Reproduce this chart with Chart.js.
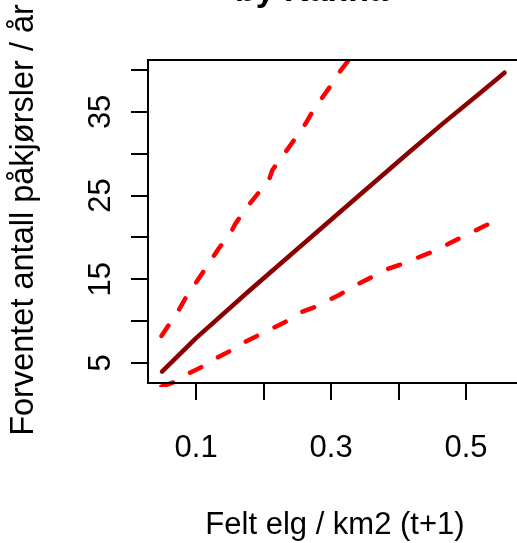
<!DOCTYPE html>
<html>
<head>
<meta charset="utf-8">
<script src="https://cdn.jsdelivr.net/npm/chart.js@4"></script>
<style>
  html, body { margin: 0; padding: 0; background: #fff; overflow: hidden; }
  #wrap { width: 517px; height: 543px; overflow: hidden; }
</style>
</head>
<body>
<div id="wrap"><canvas id="grafico" width="520" height="543"></canvas></div>
<script>
const tittel = 'by Kanna';
const xTittel = 'Felt elg / km2 (t+1)';
const yTittel = 'Forventet antall påkjørsler / år';

const xTicks = [0.1, 0.2, 0.3, 0.4, 0.5];
const xLabels = [0.1, 0.3, 0.5];
const yTicks = [5, 10, 15, 20, 25, 30, 35, 40];
const yLabels = [5, 15, 25, 35];

// forventet verdi
const xMid = [0.0495, 0.0991, 0.1783, 0.2526, 0.3269, 0.416, 0.4655, 0.52, 0.557];
const yMid = [3.95, 7.9, 13.6, 18.8, 24.0, 30.2, 33.6, 37.2, 39.68];

// øvre grense
const xOvre = [0.0486, 0.0743, 0.0842, 0.0991, 0.1238, 0.1337, 0.151, 0.1585, 0.1758, 0.208, 0.213, 0.2328, 0.2452, 0.2625, 0.2724, 0.2897, 0.3021, 0.3146, 0.3244, 0.334];
const yOvre = [8.22, 11.32, 12.72, 14.51, 17.50, 18.70, 20.49, 21.68, 23.67, 26.86, 28.05, 30.24, 31.64, 33.63, 35.02, 37.02, 38.42, 40.0, 41.0, 42.0];

// nedre grense
const xNedre = [0.0486, 0.0694, 0.0892, 0.109, 0.1337, 0.1535, 0.1734, 0.198, 0.218, 0.2328, 0.2575, 0.2774, 0.3021, 0.312, 0.3368, 0.3615, 0.3863, 0.4012, 0.426, 0.4507, 0.4755, 0.5003, 0.525, 0.557];
const yNedre = [2.16, 2.76, 3.76, 4.55, 5.74, 6.54, 7.54, 8.54, 9.33, 9.93, 11.12, 11.72, 12.72, 13.12, 14.31, 15.30, 16.31, 16.70, 17.50, 18.29, 19.29, 20.29, 21.28, 22.47];

const punkter = (xs, ys) => xs.map((x, i) => ({ x: x, y: ys[i] }));

const font = '"Liberation Sans", Arial, sans-serif';

const tekster = {
  id: 'tekster',
  afterDraw(chart) {
    const { ctx, chartArea, scales } = chart;
    ctx.save();
    // boks rundt plottet
    ctx.strokeStyle = '#000';
    ctx.lineWidth = 2;
    ctx.strokeRect(chartArea.left, chartArea.top, chartArea.right - chartArea.left, chartArea.bottom - chartArea.top);

    ctx.fillStyle = '#000';
    ctx.font = '31px ' + font;
    ctx.textAlign = 'center';
    ctx.textBaseline = 'alphabetic';
    yLabels.forEach(v => {
      const y = scales.y.getPixelForValue(v);
      ctx.save();
      ctx.translate(110, y);
      ctx.rotate(-Math.PI / 2);
      ctx.fillText(String(v), 0, 0);
      ctx.restore();
    });

    ctx.fillText(xTittel, 335, 534);

    ctx.font = '32.5px ' + font;
    ctx.save();
    ctx.translate(33, 220);
    ctx.rotate(-Math.PI / 2);
    ctx.fillText(yTittel, 0, 0);
    ctx.restore();

    ctx.font = 'bold 34px ' + font;
    ctx.textAlign = 'left';
    ctx.fillText(tittel, 235, 1);
    ctx.restore();
  }
};

const strek = { borderColor: '#ff0000', borderWidth: 4.5, borderDash: [12.5, 19.5], borderCapStyle: 'round', borderJoinStyle: 'round', pointRadius: 0, tension: 0 };

new Chart(document.getElementById('grafico'), {
  type: 'line',
  data: {
    datasets: [
      Object.assign({ label: 'nedre', data: punkter(xNedre, yNedre), clip: { left: 0, top: 0, right: 0, bottom: 4 } }, strek),
      Object.assign({ label: 'øvre', data: punkter(xOvre, yOvre), clip: 0 }, strek),
      {
        label: 'forventet',
        data: punkter(xMid, yMid),
        borderColor: '#8b0000',
        borderWidth: 4.5,
        borderCapStyle: 'round',
        borderJoinStyle: 'round',
        pointRadius: 0,
        tension: 0
      }
    ]
  },
  options: {
    responsive: false,
    animation: false,
    devicePixelRatio: 1,
    layout: { padding: { left: 0, top: 60, right: 2, bottom: 0 } },
    plugins: { legend: { display: false }, tooltip: { enabled: false } },
    scales: {
      x: {
        type: 'linear',
        min: 0.0287,
        max: 0.577,
        afterBuildTicks: s => { s.ticks = xTicks.map(v => ({ value: v })); },
        afterFit: s => { s.height = 160; },
        grid: { drawOnChartArea: false, drawTicks: true, tickLength: 17, color: '#000', lineWidth: 2 },
        border: { display: true, color: '#000', width: 2 },
        ticks: {
          color: '#000',
          font: { family: font, size: 31 },
          padding: 30,
          maxRotation: 0,
          autoSkip: false,
          callback: v => xLabels.some(l => Math.abs(l - v) < 1e-9) ? String(v) : ''
        }
      },
      y: {
        type: 'linear',
        min: 2.6,
        max: 41.2,
        afterBuildTicks: s => { s.ticks = yTicks.map(v => ({ value: v })); },
        afterFit: s => { s.width = 148; },
        grid: { drawOnChartArea: false, drawTicks: true, tickLength: 17, color: '#000', lineWidth: 2 },
        border: { display: true, color: '#000', width: 2 },
        ticks: { color: '#000', font: { family: font, size: 31 }, callback: () => '' }
      }
    }
  },
  plugins: [tekster]
});
</script>
</body>
</html>
